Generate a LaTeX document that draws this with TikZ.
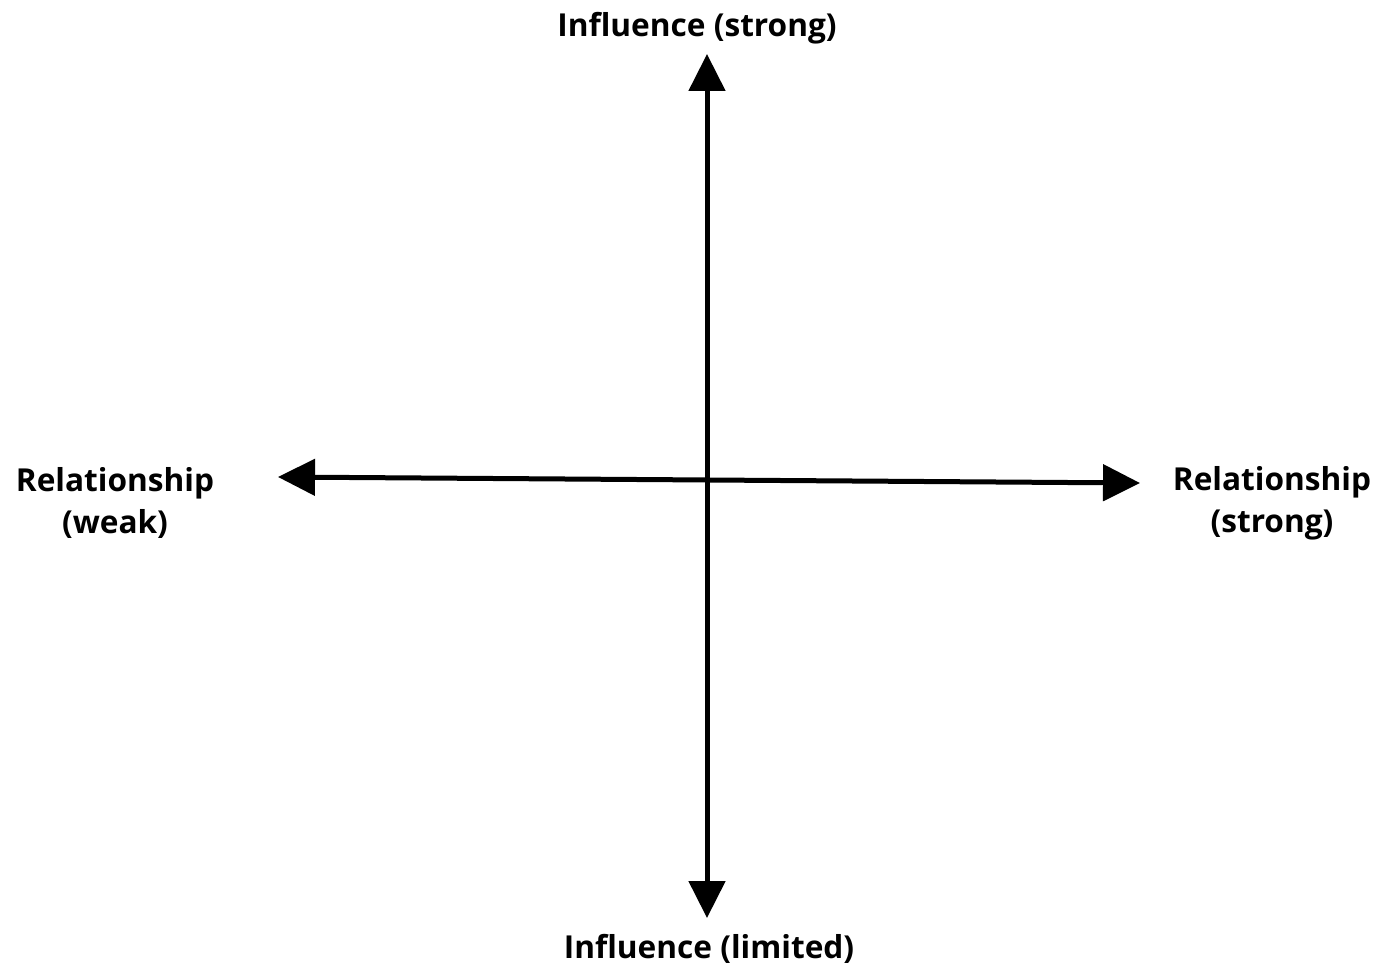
\documentclass[tikz,border=0pt]{standalone}
\usepackage{fontspec}
\setmainfont{Open Sans}
\usepackage{tikz}
\usetikzlibrary{arrows.meta, positioning}

\begin{document}
\begin{tikzpicture}[
    x=0.02cm, y=-0.02cm,
    axis/.style={{Triangle[length=0.74cm, width=0.72cm]}-{Triangle[length=0.74cm, width=0.72cm]}, line width=0.1cm, color=black},
    label/.style={font=\fontsize{18}{24}\selectfont\bfseries, align=center, inner sep=0pt}
]
\useasboundingbox (0,0) rectangle (1382,966);

\node[label] (strong) at (697,28) {Influence (strong)};
\node[label] (limited) at (709,949) {Influence (limited)};
\node[label] (weak) at (115,503) {Relationship\\(weak)};
\node[label] (relstrong) at (1272,503) {Relationship\\(strong)};

\coordinate (top) at (707,54);
\coordinate (bottom) at (707,918);
\coordinate (left) at (278,477);
\coordinate (right) at (1140,483);

\draw[axis] (bottom) -- (top);
\draw[axis] (left) -- (right);

\end{tikzpicture}
\end{document}
